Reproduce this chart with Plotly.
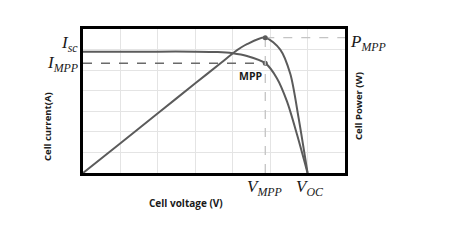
import plotly.graph_objects as go

# Data (arbitrary units)
v_iv = [0.0, 1.0, 2.0, 3.0, 3.6, 4.0, 4.38, 4.87, 5.18, 5.45, 5.72, 6.0]
i_iv = [5.9, 5.9, 5.9, 5.9, 5.88, 5.82, 5.69, 5.34, 4.61, 3.48, 1.86, 0.0]
v_p = [0.0, 1.0, 2.0, 3.0, 3.7, 4.04, 4.38, 4.87, 5.27, 5.54, 5.76, 6.0]
p_p = [0.0, 1.45, 2.9, 4.36, 5.37, 5.87, 6.26, 6.58, 6.0, 4.81, 2.68, 0.0]
v_mpp = 4.87
i_mpp = 5.34
p_mpp = 6.58
x_max = 7
y_max = 7

CURVE = "#5b5b5b"
OFF = 8  # default page body margin
L, R, T, B = 83, 118, 29, 75
W, H = 463, 248
pw, ph = W - L - R, H - T - B

def px(x):
    return (x - L) / pw

def py(y):
    return (H - B - y) / ph

fig = go.Figure()
fig.add_trace(go.Scatter(x=v_iv, y=i_iv, mode="lines", line=dict(color=CURVE, width=2, shape="spline", smoothing=0.8), hoverinfo="skip"))
fig.add_trace(go.Scatter(x=v_p, y=p_p, mode="lines", line=dict(color=CURVE, width=2, shape="spline", smoothing=0.8), yaxis="y2", hoverinfo="skip"))
# dashed guides
fig.add_trace(go.Scatter(x=[0, v_mpp], y=[i_mpp, i_mpp], mode="lines", line=dict(color="#6a6a6a", width=1.5, dash="dash"), hoverinfo="skip"))
fig.add_trace(go.Scatter(x=[v_mpp, v_mpp], y=[0, p_mpp], mode="lines", line=dict(color="#c4c4c4", width=1.3, dash="dash"), yaxis="y2", hoverinfo="skip"))
fig.add_trace(go.Scatter(x=[v_mpp, x_max], y=[p_mpp, p_mpp], mode="lines", line=dict(color="#c4c4c4", width=1.3, dash="dash"), yaxis="y2", hoverinfo="skip"))
# MPP dots
fig.add_trace(go.Scatter(x=[v_mpp], y=[i_mpp], mode="markers", marker=dict(color=CURVE, size=5), hoverinfo="skip"))
fig.add_trace(go.Scatter(x=[v_mpp], y=[p_mpp], mode="markers", marker=dict(color=CURVE, size=5), yaxis="y2", hoverinfo="skip"))

axis_common = dict(showticklabels=False, ticks="", zeroline=False, showline=True, linecolor="black", linewidth=2.5, mirror=True)
fig.update_layout(
    width=W - OFF, height=H - OFF, margin=dict(l=L - OFF, r=R, t=T - OFF, b=B),
    paper_bgcolor="white", plot_bgcolor="white", showlegend=False,
    xaxis=dict(range=[0, x_max], dtick=1, showgrid=True, gridcolor="#e4e4e4", gridwidth=1, **axis_common),
    yaxis=dict(range=[0, y_max], dtick=1, showgrid=True, gridcolor="#e4e4e4", gridwidth=1, **axis_common),
    yaxis2=dict(range=[0, y_max], overlaying="y", side="right", showgrid=False, showticklabels=False, ticks="", zeroline=False, showline=False),
)

serif = "Liberation Serif"
sans = "Open Sans"
ann = [
    ("<i>I</i><sub><i>sc</i></sub>", 80, 44, serif, 17, "right"),
    ("<i>I</i><sub><i>MPP</i></sub>", 80, 64, serif, 17, "right"),
    ("<i>P</i><sub><i>MPP</i></sub>", 348, 43, serif, 17, "left"),
    ("<i>V</i><sub><i>MPP</i></sub>", 264, 188, serif, 17, "center"),
    ("<i>V</i><sub><i>OC</i></sub>", 310, 188, serif, 17, "center"),
    ("<b>MPP</b>", 250, 76, sans, 10.5, "center"),
    ("<b>Cell voltage (V)</b>", 186, 203, sans, 10, "center"),
]
for text, x, y, fam, size, anc in ann:
    fig.add_annotation(text=text, x=px(x), y=py(y), xref="paper", yref="paper", showarrow=False,
                       font=dict(family=fam, size=size, color="#1a1a1a"), xanchor=anc, yanchor="middle")
fig.add_annotation(text="<b>Cell current(A)</b>", x=px(47), y=py(127), xref="paper", yref="paper", showarrow=False,
                   textangle=-90, font=dict(family=sans, size=9.5, color="#1a1a1a"), xanchor="center", yanchor="middle")
fig.add_annotation(text="<b>Cell Power (W)</b>", x=px(358), y=py(106), xref="paper", yref="paper", showarrow=False,
                   textangle=-90, font=dict(family=sans, size=9.5, color="#1a1a1a"), xanchor="center", yanchor="middle")

fig.write_html("out.html")
